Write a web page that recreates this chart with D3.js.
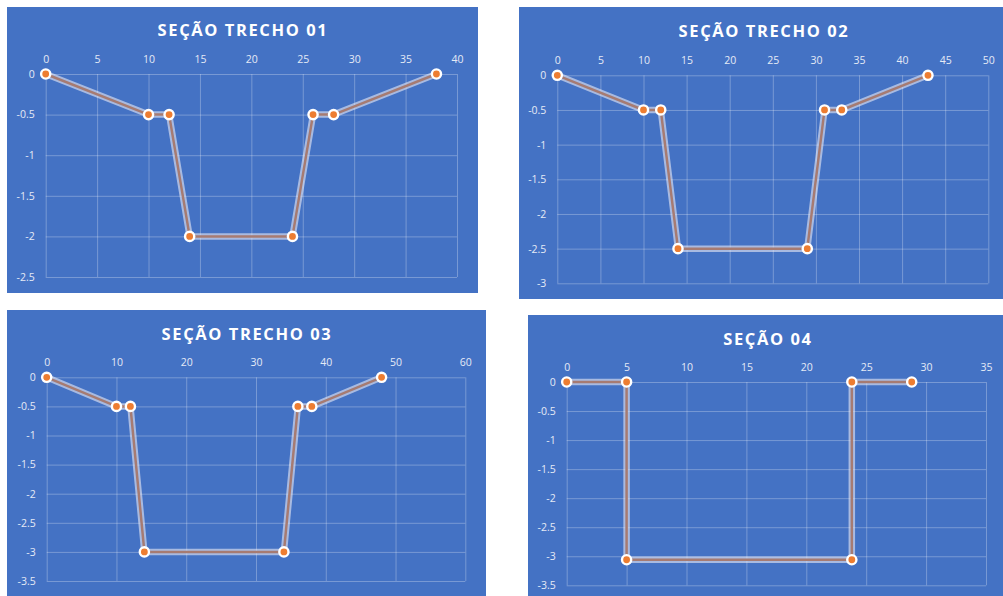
<!DOCTYPE html>
<html>
<head>
<meta charset="utf-8">
<script src="https://cdn.jsdelivr.net/npm/d3@7"></script>
<style>
  html, body { margin: 0; padding: 0; background: #ffffff; }
  svg { display: block; }
</style>
</head>
<body>
<svg id="chart" width="1003" height="596"></svg>
<script>
// Section profiles (station x, elevation y)
const titles = ["SEÇÃO TRECHO 01", "SEÇÃO TRECHO 02", "SEÇÃO TRECHO 03", "SEÇÃO 04"];

const trecho01X = [0, 10, 12, 14, 24, 26, 28, 38];
const trecho01Y = [0, -0.5, -0.5, -2, -2, -0.5, -0.5, 0];

const trecho02X = [0, 10, 12, 14, 29, 31, 33, 43];
const trecho02Y = [0, -0.5, -0.5, -2.5, -2.5, -0.5, -0.5, 0];

const trecho03X = [0, 10, 12, 14, 34, 36, 38, 48];
const trecho03Y = [0, -0.5, -0.5, -3, -3, -0.5, -0.5, 0];

const secao04X = [0, 5, 5, 23.8, 23.8, 28.8];
const secao04Y = [0, 0, -3.06, -3.06, 0, 0];

// Axis ranges and tick steps
const xMax = [40, 50, 60, 35];
const xStep = [5, 5, 10, 5];
const yMin = [-2.5, -3, -3.5, -3.5];
const yStep = 0.5;

// Panel layout on the page
const panels = [
    { bg: [7, 7, 478, 293],    plot: [45.7, 74, 457, 277],     title: [243, 29] },
    { bg: [519, 7, 1003, 299], plot: [557.3, 75.3, 988.3, 283.3], title: [764, 30] },
    { bg: [7, 310, 486, 596],  plot: [46.7, 377.3, 465.3, 581], title: [247, 333] },
    { bg: [528, 315, 1003, 596], plot: [566.7, 382, 986, 585.3], title: [768, 338] }
];

const seriesX = [trecho01X, trecho02X, trecho03X, secao04X];
const seriesY = [trecho01Y, trecho02Y, trecho03Y, secao04Y];

const svg = d3.select("#chart");

function drawSection(i) {
    const p = panels[i];
    const [px0, py0, px1, py1] = p.plot;
    const points = seriesX[i].map((x, j) => ({ x: x, y: seriesY[i][j] }));

    const x = d3.scaleLinear().domain([0, xMax[i]]).range([px0, px1]);
    const y = d3.scaleLinear().domain([0, yMin[i]]).range([py0, py1]);

    const xTicks = d3.range(0, xMax[i] + 0.001, xStep[i]);
    const yTicks = d3.range(0, yMin[i] - 0.001, -yStep);

    const g = svg.append("g");

    // panel background
    g.append("rect")
        .attr("x", p.bg[0])
        .attr("y", p.bg[1])
        .attr("width", p.bg[2] - p.bg[0])
        .attr("height", p.bg[3] - p.bg[1])
        .attr("fill", "#4472c4");

    // title
    g.append("text")
        .attr("x", p.title[0])
        .attr("y", p.title[1])
        .attr("text-anchor", "middle")
        .attr("dominant-baseline", "central")
        .attr("fill", "#ffffff")
        .attr("font-family", "'Open Sans', sans-serif")
        .attr("font-weight", "bold")
        .attr("font-size", "16.5px")
        .attr("letter-spacing", "1.6px")
        .text(titles[i]);

    // vertical grid + top labels
    g.append("g")
        .attr("transform", `translate(0, ${py0})`)
        .call(d3.axisTop(x).tickValues(xTicks).tickSize(py0 - py1).tickPadding(11).tickFormat(d3.format("d")))
        .call(a => a.select(".domain").remove())
        .call(a => a.selectAll("line").attr("stroke", "rgba(255,255,255,0.28)").attr("stroke-width", 1))
        .call(a => a.selectAll("text")
            .attr("fill", "#e4eaf6")
            .attr("font-family", "'Open Sans', sans-serif")
            .attr("font-size", "10.5px"));

    // horizontal grid + left labels
    g.append("g")
        .attr("transform", `translate(${px0}, 0)`)
        .call(d3.axisLeft(y).tickValues(yTicks).tickSize(-(px1 - px0)).tickPadding(11).tickFormat(d => d === 0 ? "0" : String(d)))
        .call(a => a.select(".domain").remove())
        .call(a => a.selectAll("line").attr("stroke", "rgba(255,255,255,0.28)").attr("stroke-width", 1))
        .call(a => a.selectAll("text")
            .attr("fill", "#e4eaf6")
            .attr("font-family", "'Open Sans', sans-serif")
            .attr("font-size", "10.5px"));

    const line = d3.line()
        .x(d => x(d.x))
        .y(d => y(d.y));

    // glow
    g.append("path")
        .attr("d", line(points))
        .attr("fill", "none")
        .attr("stroke", "rgba(235,235,245,0.6)")
        .attr("stroke-width", 6.5)
        .attr("stroke-linejoin", "round");

    g.append("path")
        .attr("d", line(points))
        .attr("fill", "none")
        .attr("stroke", "#a67b72")
        .attr("stroke-width", 2.5)
        .attr("stroke-linejoin", "round");

    g.selectAll(".pt")
        .data(points)
        .join("circle")
        .attr("class", "pt")
        .attr("cx", d => x(d.x))
        .attr("cy", d => y(d.y))
        .attr("r", 4.6)
        .attr("fill", "#ed7d31")
        .attr("stroke", "#ffffff")
        .attr("stroke-width", 2.4);
}

panels.forEach((p, i) => drawSection(i));
</script>
</body>
</html>
